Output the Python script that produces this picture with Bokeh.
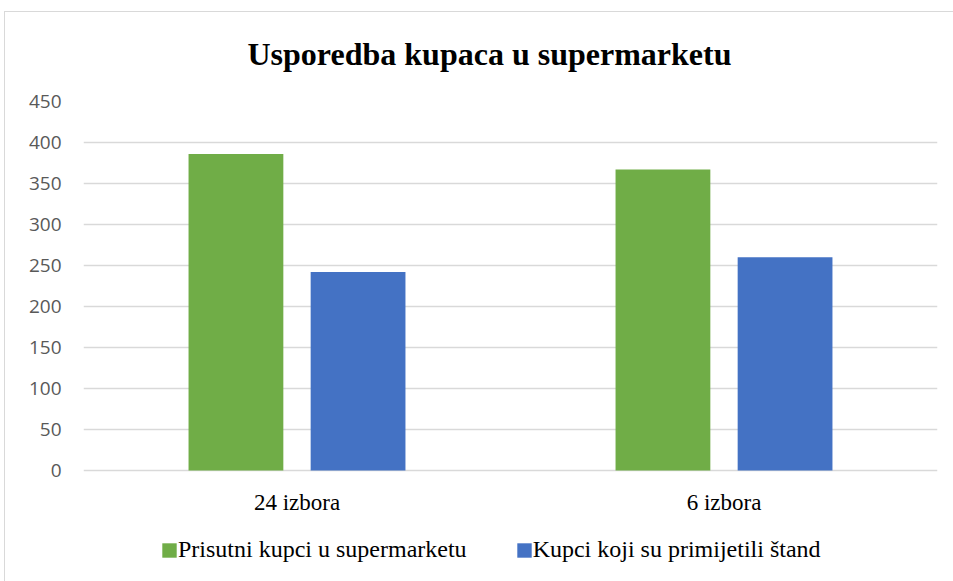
from bokeh.plotting import figure
from bokeh.models import ColumnDataSource, FactorRange, Legend, LegendItem, Title
from bokeh.core.properties import value
from bokeh.transform import dodge
from bokeh.embed import file_html
from bokeh.resources import INLINE

categories = ["24 izbora", "6 izbora"]
present_customers = [386, 367]
noticed_stand = [242, 260]
series_names = ["Prisutni kupci u supermarketu", "Kupci koji su primijetili štand"]
series_colors = ["#70AD47", "#4472C4"]
y_ticks = [0, 50, 100, 150, 200, 250, 300, 350, 400, 450]
title_text = "Usporedba kupaca u supermarketu"

src = ColumnDataSource(data=dict(cat=categories, present=present_customers, noticed=noticed_stand))

# frame extends below zero so the category labels and legend can sit inside it
Y_MAX = 450
PX_PER_UNIT = 369 / 450
FRAME_H = 581 - 101 - 6
Y_MIN = Y_MAX - FRAME_H / PX_PER_UNIT

p = figure(x_range=FactorRange(*categories), y_range=(Y_MIN, Y_MAX),
           width=953, height=581, output_backend="svg", toolbar_location=None,
           min_border_left=83, min_border_right=16, min_border_top=101, min_border_bottom=6)

# light grey chart-area border (top and left edges), drawn behind a transparent border fill
p.border_fill_alpha = 0
p.background_fill_color = "white"
p.styles = {
    "background": ("linear-gradient(#d9d9d9, #d9d9d9) 4px 11px / 1px 100% no-repeat, "
                   "linear-gradient(#d9d9d9, #d9d9d9) 4px 11px / 100% 1px no-repeat, white"),
}

r1 = p.vbar(x=dodge("cat", -0.143, range=p.x_range), top="present", width=0.222,
            source=src, fill_color=series_colors[0], line_color=None)
r2 = p.vbar(x=dodge("cat", 0.143, range=p.x_range), top="noticed", width=0.222,
            source=src, fill_color=series_colors[1], line_color=None)

# category labels under the zero line
label_y = -31.5 / PX_PER_UNIT
p.text(x=categories, y=[label_y] * len(categories), text=categories,
       text_align="center", text_baseline="alphabetic",
       text_font=value("Liberation Serif"), text_font_size="23px", text_color="#000000")

p.add_layout(Title(text=title_text, align="left", offset=164, standoff=59,
                   text_font="Liberation Serif", text_font_size="32px",
                   text_font_style="bold", text_color="#000000"), "above")

p.outline_line_color = None
p.xgrid.grid_line_color = None
p.ygrid.grid_line_color = "#d9d9d9"
p.ygrid.grid_line_width = 1.5

p.yaxis.ticker = y_ticks
p.yaxis.axis_line_color = None
p.yaxis.major_tick_line_color = None
p.yaxis.minor_tick_line_color = None
p.yaxis.major_label_standoff = 16
p.yaxis.major_label_text_font = "Open Sans"
p.yaxis.major_label_text_font_size = "19px"
p.yaxis.major_label_text_color = "#595959"

p.xaxis.visible = False

legend = Legend(items=[LegendItem(label=series_names[0], renderers=[r1]),
                       LegendItem(label=series_names[1], renderers=[r2])],
                orientation="horizontal", location=(77, 12),
                glyph_width=18, glyph_height=18, label_standoff=0, spacing=48,
                padding=0, margin=0, border_line_color=None, background_fill_alpha=0,
                label_text_font="Liberation Serif", label_text_font_size="24px",
                label_text_color="#000000")
p.add_layout(legend, "center")

open("out.html", "w").write(file_html(p, INLINE))
